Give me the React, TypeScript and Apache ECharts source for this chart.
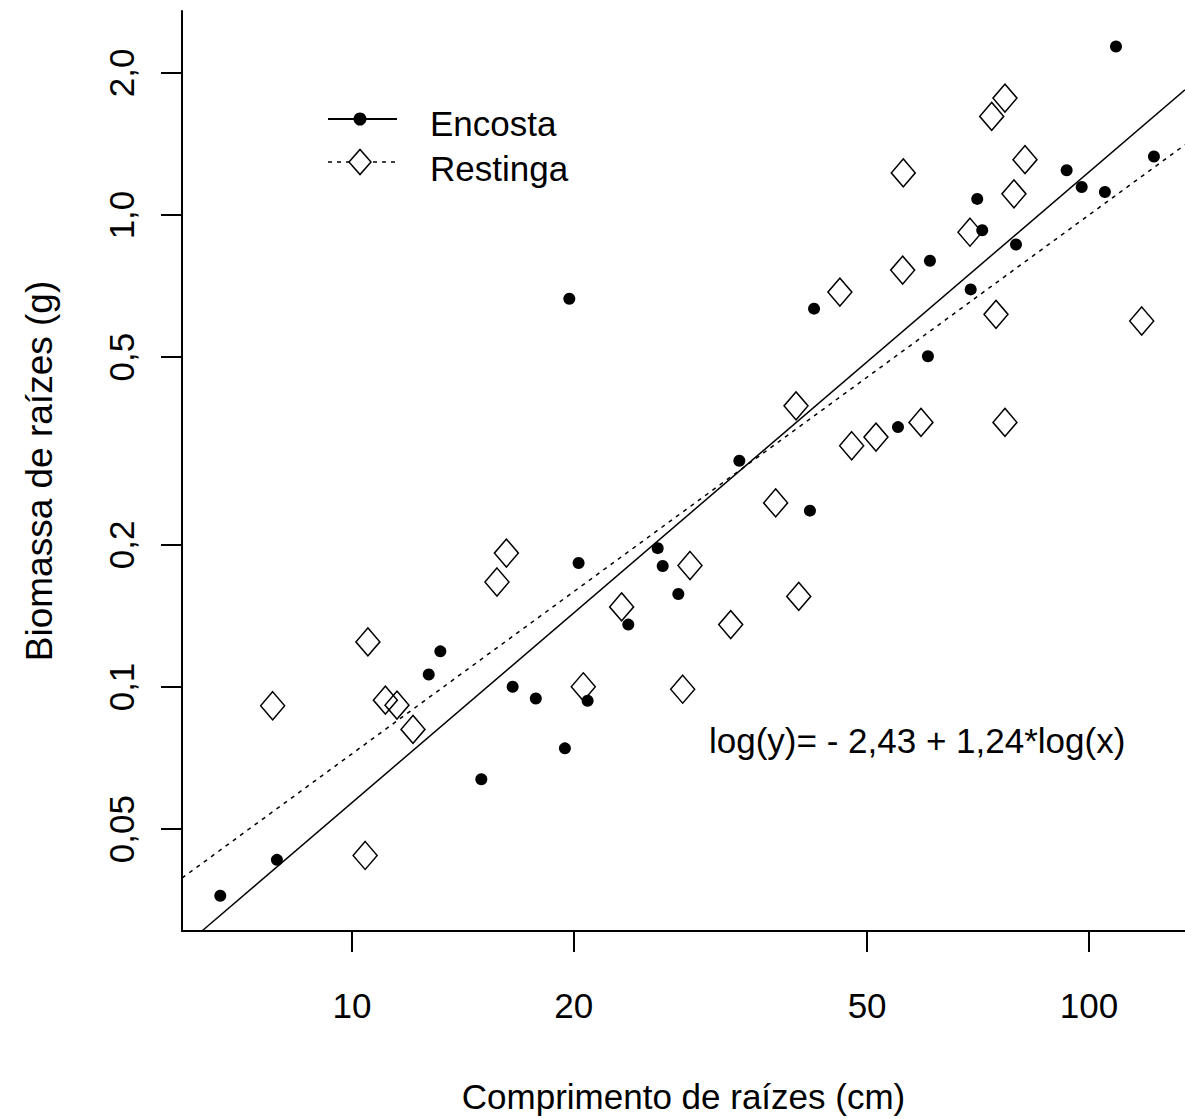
import React, { useEffect, useRef } from "react";
import * as echarts from "echarts";

// Axis definitions (raw units, log10 scale)
const xTickValues = [10, 20, 50, 100];
const xTickLabels = ["10", "20", "50", "100"];
const yTickValues = [0.05, 0.1, 0.2, 0.5, 1, 2];
const yTickLabels = ["0,05", "0,1", "0,2", "0,5", "1,0", "2,0"];
const xRange = [5.88, 134.98];
const yRange = [0.03041, 2.706];

// Encosta (filled dots)
const encostaX = [6.627, 7.91, 12.71, 13.18, 14.98, 16.52, 17.76, 19.45, 19.72, 20.3, 20.88, 23.71, 25.99, 26.4, 27.72, 33.54, 41.82, 42.36, 55.06, 60.46, 60.84, 69.1, 70.53, 71.64, 79.61, 93.26, 97.75, 105.1, 108.8, 122.5];
const encostaY = [0.03612, 0.04303, 0.1063, 0.119, 0.06374, 0.1001, 0.09456, 0.07413, 0.6649, 0.1831, 0.0935, 0.1356, 0.1969, 0.1804, 0.1574, 0.3016, 0.2364, 0.6333, 0.3554, 0.5021, 0.8, 0.6957, 1.082, 0.9287, 0.8661, 1.244, 1.147, 1.119, 2.275, 1.331];

// Restinga (open diamonds)
const restingaX = [7.805, 10.42, 10.51, 11.1, 11.51, 12.1, 15.73, 16.2, 20.6, 23.22, 28.1, 28.75, 32.65, 37.57, 40.04, 40.38, 45.92, 47.64, 51.4, 55.98, 55.87, 59.16, 68.95, 73.79, 74.79, 76.91, 76.91, 79.1, 81.88, 117.9];
const restingaY = [0.09126, 0.04396, 0.1246, 0.09378, 0.09152, 0.0813, 0.1669, 0.1922, 0.1001, 0.1478, 0.09893, 0.1809, 0.1356, 0.2455, 0.3942, 0.1556, 0.6866, 0.3245, 0.3385, 1.228, 0.7644, 0.3636, 0.9197, 1.618, 0.6161, 1.769, 0.3636, 1.109, 1.31, 0.5964];

// Fitted lines (end points)
const encostaFitX = [6.259, 134.98];
const encostaFitY = [0.03041, 1.842];
const restingaFitX = [5.88, 134.98];
const restingaFitY = [0.03937, 1.409];

const seriesNames = ["Encosta", "Restinga"];
const equationText = "log(y)= - 2,43 + 1,24*log(x)";
const xName = "Comprimento de raízes (cm)";
const yName = "Biomassa de raízes (g)";

const FONT = '"Liberation Sans", Arial, Helvetica, sans-serif';
const L = (v: number) => Math.log10(v);

function labelFor(values: number[], labels: string[]) {
  return (v: number) => {
    for (let i = 0; i < values.length; i++) {
      if (Math.abs(L(values[i]) - v) < 1e-6) return labels[i];
    }
    return "";
  };
}

export default function App() {
  const ref = useRef<HTMLDivElement>(null);

  useEffect(() => {
    if (!ref.current) return;
    const chart = echarts.init(ref.current, null, { renderer: "svg" });

    const axisLineStyle = { color: "#000", width: 2 };
    const textBase = { color: "#000", fontFamily: FONT, fontSize: 35 };

    const option: any = {
      animation: false,
      backgroundColor: "#fff",
      grid: { left: 182, top: 11, right: 0, height: 922, containLabel: false },
      xAxis: {
        type: "value",
        min: L(xRange[0]),
        max: L(xRange[1]),
        axisLine: { show: true, onZero: false, lineStyle: axisLineStyle },
        axisTick: { show: true, customValues: xTickValues.map(L), length: 21, lineStyle: axisLineStyle },
        axisLabel: {
          customValues: xTickValues.map(L),
          formatter: labelFor(xTickValues, xTickLabels),
          margin: 57,
          ...textBase,
        },
        splitLine: { show: false },
        name: xName,
        nameLocation: "middle",
        nameGap: 148,
        nameTextStyle: { ...textBase },
      },
      yAxis: {
        type: "value",
        min: L(yRange[0]),
        max: L(yRange[1]),
        axisLine: { show: true, onZero: false, lineStyle: axisLineStyle },
        axisTick: { show: true, customValues: yTickValues.map(L), length: 21, lineStyle: axisLineStyle },
        axisLabel: {
          customValues: yTickValues.map(L),
          formatter: labelFor(yTickValues, yTickLabels),
          rotate: 90,
          margin: 43,
          ...textBase,
        },
        splitLine: { show: false },
        name: yName,
        nameLocation: "middle",
        nameRotate: 90,
        nameGap: 124,
        nameTextStyle: { ...textBase, fontSize: 37 },
      },
      series: [
        {
          name: seriesNames[0],
          type: "scatter",
          symbol: "circle",
          symbolSize: 12,
          itemStyle: { color: "#000", opacity: 1 },
          data: encostaX.map((x, i) => [L(x), L(encostaY[i])]),
          z: 3,
        },
        {
          name: seriesNames[1],
          type: "scatter",
          symbol: "diamond",
          symbolSize: [24, 28],
          itemStyle: { color: "rgba(255,255,255,0)", borderColor: "#000", borderWidth: 1.5, opacity: 1 },
          data: restingaX.map((x, i) => [L(x), L(restingaY[i])]),
          z: 3,
        },
        {
          name: seriesNames[0] + " ajuste",
          type: "line",
          symbol: "none",
          lineStyle: { color: "#000", width: 1.5 },
          data: encostaFitX.map((x, i) => [L(x), L(encostaFitY[i])]),
          clip: true,
          z: 2,
        },
        {
          name: seriesNames[1] + " ajuste",
          type: "line",
          symbol: "none",
          lineStyle: { color: "#000", width: 1.5, type: [4, 5] },
          data: restingaFitX.map((x, i) => [L(x), L(restingaFitY[i])]),
          clip: true,
          z: 2,
        },
      ],
      graphic: [
        { type: "line", shape: { x1: 328, y1: 119, x2: 397, y2: 119 }, style: { stroke: "#000", lineWidth: 2 } },
        { type: "circle", shape: { cx: 360, cy: 119, r: 6.5 }, style: { fill: "#000" } },
        { type: "line", shape: { x1: 328, y1: 162, x2: 397, y2: 162 }, style: { stroke: "#000", lineWidth: 1.5, lineDash: [4, 5] } },
        {
          type: "polygon",
          shape: { points: [[349, 162], [360, 149.5], [371, 162], [360, 174.5]] },
          style: { fill: "#fff", stroke: "#000", lineWidth: 1.5 },
        },
        { type: "text", x: 430, y: 123, style: { text: seriesNames[0], fill: "#000", fontSize: 35, fontFamily: FONT, verticalAlign: "middle", align: "left" } },
        { type: "text", x: 430, y: 168, style: { text: seriesNames[1], fill: "#000", fontSize: 35, fontFamily: FONT, verticalAlign: "middle", align: "left" } },
        { type: "text", x: 709, y: 740, style: { text: equationText, fill: "#000", fontSize: 35, fontFamily: FONT, verticalAlign: "middle", align: "left" } },
      ],
    };

    chart.setOption(option);
    return () => chart.dispose();
  }, []);

  return (
    <div
      ref={ref}
      style={{ position: "fixed", left: 0, top: 0, width: 1185, height: 1119, background: "#fff" }}
    />
  );
}
